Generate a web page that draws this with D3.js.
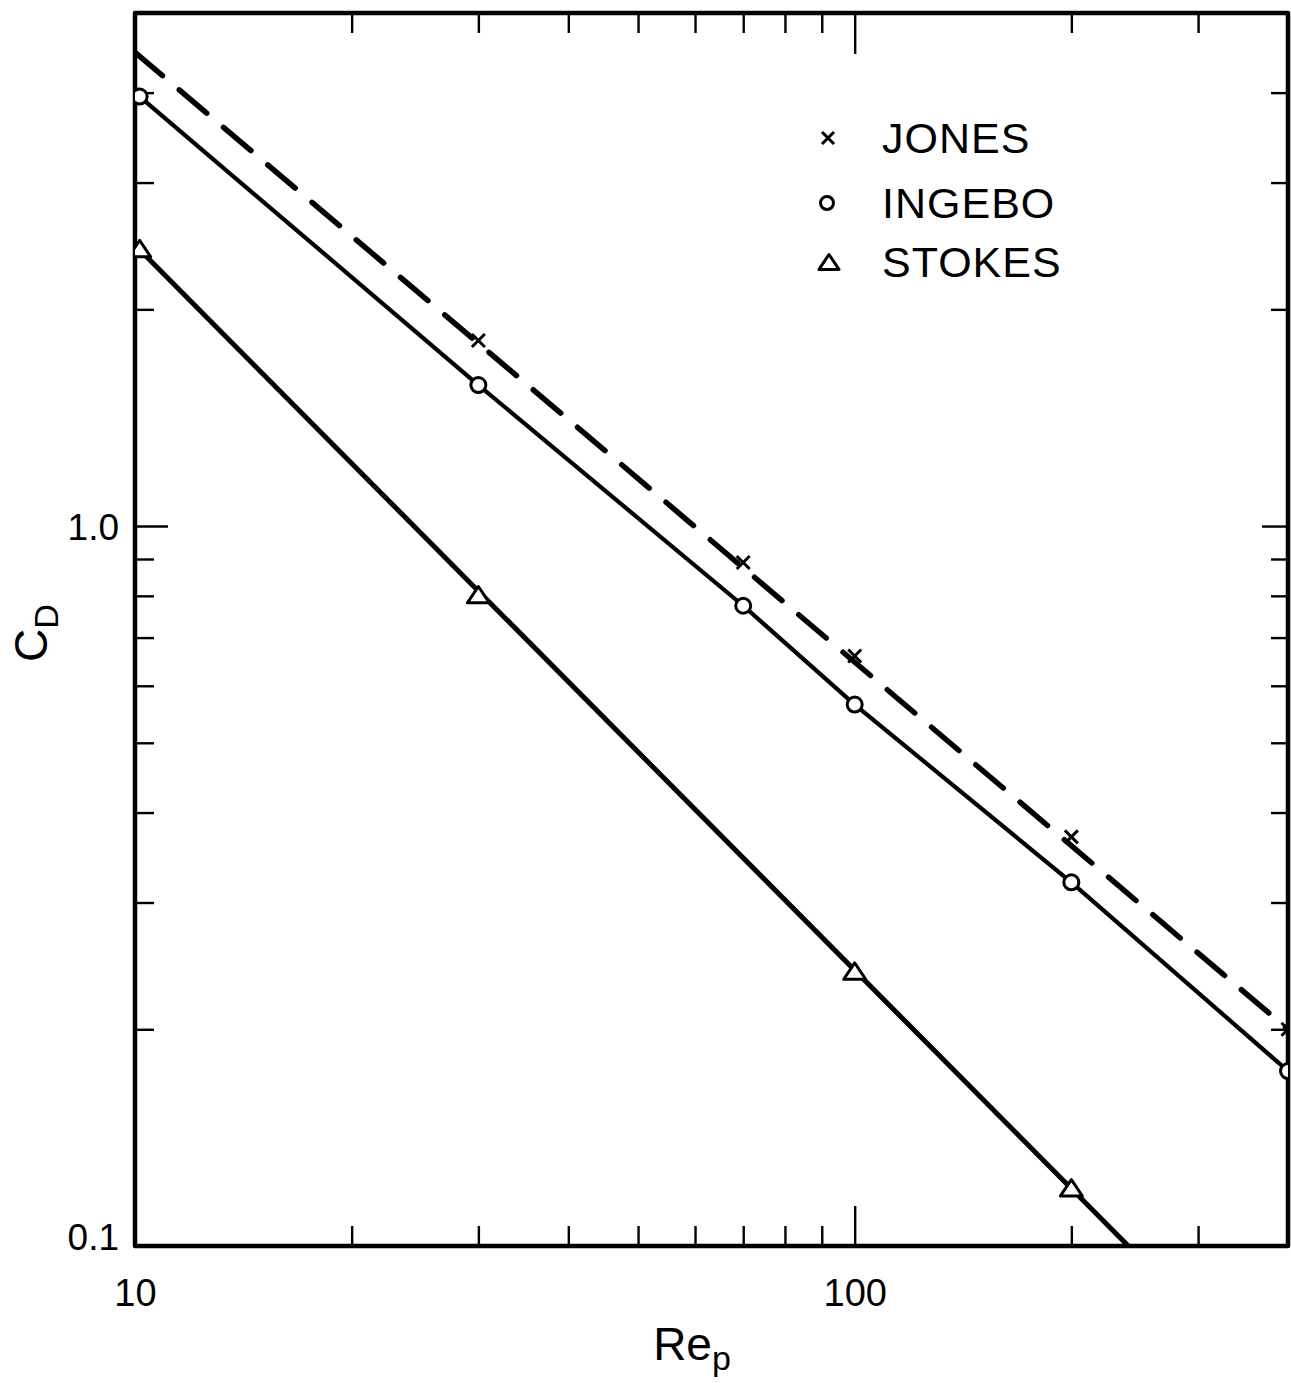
<!DOCTYPE html>
<html><head><meta charset="utf-8">
<script src="https://cdn.jsdelivr.net/npm/d3@7"></script>
<style>
body{margin:0;background:#fff}
svg{display:block}
text{font-family:"Liberation Sans",Arial,sans-serif;fill:#000}
</style>
</head><body>
<svg id="chart" width="1291" height="1383"></svg>
<script>
// ---- data ----
const reMajorTicks = [10, 100];
const reMinorTicks = [20, 30, 40, 50, 60, 70, 80, 90, 200, 300];
const cdMajorTicks = [0.1, 1.0];
const cdMinorTicks = [0.2, 0.3, 0.4, 0.5, 0.6, 0.7, 0.8, 0.9, 2, 3, 4];
const reTickLabels = ["10", "100"];
const cdTickLabels = ["0.1", "1.0"];

const jonesRe = [30, 70, 100, 200, 400];
const jonesCd = [1.81, 0.89, 0.66, 0.37, 0.20];
const jonesLineRe = [10, 400];
const jonesLineCd = [4.55, 0.20];

const ingeboRe = [10.15, 30, 70, 100, 200, 400];
const ingeboCd = [3.95, 1.57, 0.775, 0.565, 0.32, 0.175];

const stokesRe = [10.15, 30, 100, 200];
const stokesCd = [2.42, 0.80, 0.24, 0.12];
const stokesLineRe = [10.15, 240];
const stokesLineCd = [2.42, 0.10];

const legendNames = ["JONES", "INGEBO", "STOKES"];
const legendSymbols = ["x", "o", "t"];

// ---- scales ----
const L = 135, R = 1288, T = 13, B = 1246;
const x = d3.scaleLog().domain([10, 400]).range([L, R]);
const y = d3.scaleLog().domain([0.1, 5.16]).range([B, T]);

const svg = d3.select("#chart");

svg.append("defs").append("clipPath").attr("id", "plot")
  .append("rect").attr("x", L).attr("y", T).attr("width", R - L).attr("height", B - T);

// ---- axes (inward ticks) ----
function styleAxis(g) {
  g.select(".domain").remove();
  g.selectAll(".tick line").attr("stroke", "#000").attr("stroke-width", 2.4);
}
// bottom
svg.append("g").attr("transform", `translate(0,${B})`)
  .call(d3.axisBottom(x).tickValues(reMinorTicks).tickSize(-20).tickFormat(""))
  .call(styleAxis);
svg.append("g").attr("transform", `translate(0,${B})`)
  .call(d3.axisBottom(x).tickValues([100]).tickSize(-40).tickFormat(""))
  .call(styleAxis);
const bl = svg.append("g").attr("transform", `translate(0,${B})`)
  .call(d3.axisBottom(x).tickValues(reMajorTicks).tickSize(0)
    .tickFormat((d, i) => reTickLabels[i]))
  .call(styleAxis);
bl.selectAll("text").attr("font-size", 38).attr("y", 60).attr("dy", 0)
  .attr("font-family", "Liberation Sans, Arial, sans-serif");
// top
svg.append("g").attr("transform", `translate(0,${T})`)
  .call(d3.axisTop(x).tickValues(reMinorTicks).tickSize(-20).tickFormat(""))
  .call(styleAxis);
svg.append("g").attr("transform", `translate(0,${T})`)
  .call(d3.axisTop(x).tickValues([100]).tickSize(-41).tickFormat(""))
  .call(styleAxis);
// left
svg.append("g").attr("transform", `translate(${L},0)`)
  .call(d3.axisLeft(y).tickValues(cdMinorTicks).tickSize(-19).tickFormat(""))
  .call(styleAxis);
svg.append("g").attr("transform", `translate(${L},0)`)
  .call(d3.axisLeft(y).tickValues([1.0]).tickSize(-33).tickFormat(""))
  .call(styleAxis);
const ll = svg.append("g").attr("transform", `translate(${L},0)`)
  .call(d3.axisLeft(y).tickValues(cdMajorTicks).tickSize(0)
    .tickFormat((d, i) => cdTickLabels[i]))
  .call(styleAxis);
ll.selectAll("text").attr("font-size", 37).attr("x", -16).attr("dy", "0.36em")
  .attr("font-family", "Liberation Sans, Arial, sans-serif");
ll.selectAll(".tick").filter(d => d === 0.1).select("text").attr("dy", "0.1em");
// right
svg.append("g").attr("transform", `translate(${R},0)`)
  .call(d3.axisRight(y).tickValues(cdMinorTicks).tickSize(-17).tickFormat(""))
  .call(styleAxis);
svg.append("g").attr("transform", `translate(${R},0)`)
  .call(d3.axisRight(y).tickValues([1.0]).tickSize(-26).tickFormat(""))
  .call(styleAxis);

// ---- frame ----
svg.append("path")
  .attr("d", `M${L},${T}H${R}V${B}H${L}Z`)
  .attr("fill", "none").attr("stroke", "#000").attr("stroke-width", 4.5)
  .attr("stroke-linejoin", "round");

// ---- lines ----
const plot = svg.append("g").attr("clip-path", "url(#plot)");
const line = d3.line().x(d => x(d[0])).y(d => y(d[1]));

plot.append("path")
  .attr("d", line(jonesLineRe.map((r, i) => [r, jonesLineCd[i]])))
  .attr("fill", "none").attr("stroke", "#000").attr("stroke-width", 5.5)
  .attr("stroke-dasharray", "36,22").attr("stroke-linecap", "round");

plot.append("path")
  .attr("d", line(ingeboRe.map((r, i) => [r, ingeboCd[i]])))
  .attr("fill", "none").attr("stroke", "#000").attr("stroke-width", 4.2);

plot.append("path")
  .attr("d", line(stokesLineRe.map((r, i) => [r, stokesLineCd[i]])))
  .attr("fill", "none").attr("stroke", "#000").attr("stroke-width", 5);

// ---- markers ----
function drawX(g, cx, cy, s) {
  g.append("path")
    .attr("d", `M${cx - s},${cy - s}L${cx + s},${cy + s}M${cx - s},${cy + s}L${cx + s},${cy - s}`)
    .attr("stroke", "#000").attr("stroke-width", 3).attr("fill", "none");
}
function drawO(g, cx, cy, r) {
  g.append("circle").attr("cx", cx).attr("cy", cy).attr("r", r)
    .attr("fill", "#fff").attr("stroke", "#000").attr("stroke-width", 3);
}
function drawT(g, cx, cy, s) {
  const h = s * 0.85;
  g.append("path")
    .attr("d", `M${cx},${cy - h}L${cx + s},${cy + h * 0.75}L${cx - s},${cy + h * 0.75}Z`)
    .attr("fill", "#fff").attr("stroke", "#000").attr("stroke-width", 3)
    .attr("stroke-linejoin", "round");
}
jonesRe.forEach((r, i) => drawX(plot, x(r), y(jonesCd[i]), 6.5));
ingeboRe.forEach((r, i) => drawO(plot, x(r), y(ingeboCd[i]), 7.5));
stokesRe.forEach((r, i) => drawT(plot, x(r), y(stokesCd[i]), 11));

// ---- legend ----
const legY = [138, 203, 262];
const lg = svg.append("g");
legendNames.forEach((n, i) => {
  const s = legendSymbols[i];
  if (s === "x") drawX(lg, 828, legY[i], 6);
  if (s === "o") drawO(lg, 827, legY[i], 6.5);
  if (s === "t") drawT(lg, 829, legY[i] + 1, 10);
  lg.append("text").attr("x", 882).attr("y", legY[i]).attr("dy", "0.36em")
    .attr("font-size", 43).attr("letter-spacing", 1).text(n);
});

// ---- axis titles ----
const xt = svg.append("text").attr("x", 692).attr("y", 1360)
  .attr("text-anchor", "middle").attr("font-size", 46);
xt.append("tspan").text("Re");
xt.append("tspan").attr("font-size", 34).attr("dy", 10).text("p");

const yt = svg.append("text").attr("transform", "translate(47,633) rotate(-90)")
  .attr("text-anchor", "middle").attr("font-size", 46);
yt.append("tspan").text("C");
yt.append("tspan").attr("font-size", 34).attr("dy", 11).text("D");
</script>
</body></html>
